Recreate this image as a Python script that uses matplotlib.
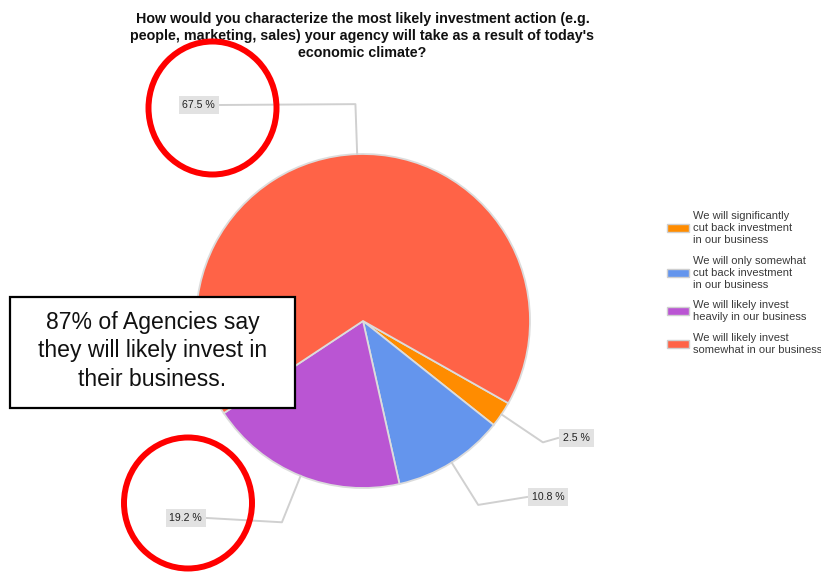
import numpy as np
import matplotlib.pyplot as plt
from matplotlib.patches import Rectangle, Ellipse

plt.rcParams['font.family'] = ['Liberation Sans', 'DejaVu Sans']

title = ("How would you characterize the most likely investment action (e.g.\n"
         "people, marketing, sales) your agency will take as a result of today's\n"
         "economic climate?")
answers = ['We will significantly\ncut back investment\nin our business',
           'We will only somewhat\ncut back investment\nin our business',
           'We will likely invest\nheavily in our business',
           'We will likely invest\nsomewhat in our business']
shares = [2.5, 10.8, 19.2, 67.5]
colors = ['#FF8C00', '#6495ED', '#BA55D3', '#FF6347']
callout = '87% of Agencies say\nthey will likely invest in\ntheir business.'

W, H = 821, 574
fig = plt.figure(figsize=(W / 100, H / 100), dpi=100)

# pie axes, center and radius in pixels
cx, cy, R = 363, 321, 167
m = 1.05
pax = fig.add_axes([(cx - R * m) / W, (H - cy - R * m) / H, 2 * R * m / W, 2 * R * m / H])
wedges, _ = pax.pie(shares, colors=colors, startangle=-29.5, counterclock=False,
                    radius=1, wedgeprops=dict(edgecolor='#dcdcdc', linewidth=1.3))
pax.set_xlim(-m, m)
pax.set_ylim(-m, m)
pax.axis('off')

# overlay in pixel coordinates (y downwards)
ov = fig.add_axes([0, 0, 1, 1], zorder=5)
ov.set_xlim(0, W)
ov.set_ylim(H, 0)
ov.axis('off')
ov.patch.set_alpha(0)

ov.text(362.5, 36, title, ha='center', va='center', fontsize=10.25,
        fontweight='bold', color='#111111', linespacing=1.29)

# value labels with leader lines (box edge where the line meets, side)
label_at = [(558, 438, 'left'), (527, 497, 'left'), (207, 518, 'right'), (220, 105, 'right')]
for w, v, (lx, ly, side) in zip(wedges, shares, label_at):
    a = np.deg2rad((w.theta1 + w.theta2) / 2)
    x0, y0 = cx + R * np.cos(a), cy - R * np.sin(a)
    x1, y1 = cx + (R + 50) * np.cos(a), cy - (R + 50) * np.sin(a)
    ov.plot([x0, x1, lx], [y0, y1, ly], color='#d0d0d0', lw=1.4, zorder=1)
    pad = 5
    tx = lx + pad if side == 'left' else lx - pad
    ov.text(tx, ly, f'{v} %', ha=side, va='center', fontsize=7.6, color='#222222',
            bbox=dict(boxstyle='square,pad=0.35', fc='#e2e2e2', ec='none'), zorder=2)

# legend
leg_y = [228, 273, 311, 344]
for lab, c, y in zip(answers, colors, leg_y):
    ov.add_patch(Rectangle((667, y - 4), 22, 8, fc=c, ec='#cfcfcf', lw=1, zorder=2))
    ov.text(693, y, lab, ha='left', va='center', fontsize=8.0, color='#3a3a3a',
            linespacing=1.2)

# callout box
ov.add_patch(Rectangle((10, 297), 285, 111, fc='white', ec='black', lw=1.6, zorder=3))
ov.text(152.5, 351, callout, ha='center', va='center', fontsize=16.6, color='#111111',
        linespacing=1.33, zorder=4)

# red rings
ov.add_patch(Ellipse((212.5, 108), 128, 133, fill=False, ec='#ff0000', lw=4.3, zorder=6))
ov.add_patch(Ellipse((188, 503), 128, 131, fill=False, ec='#ff0000', lw=4.3, zorder=6))

fig.savefig('out.png', dpi=100, facecolor='white')
